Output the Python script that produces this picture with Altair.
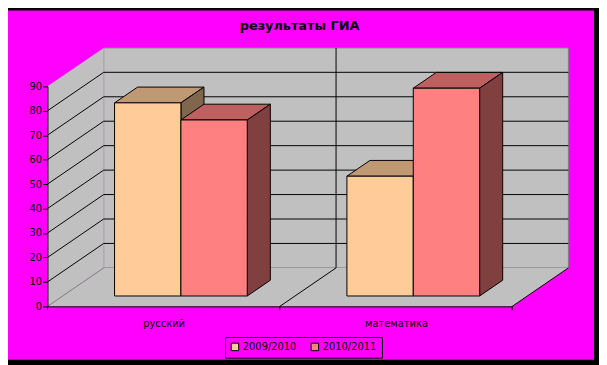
import altair as alt
import pandas as pd

# ---- data ----
categories = ["русский", "математика"]
series = ["2009/2010", "2010/2011"]
values_2009_2010 = [79, 49]
values_2010_2011 = [72, 85]
y_ticks = [0, 10, 20, 30, 40, 50, 60, 70, 80, 90]
title_text = "результаты ГИА"

front_colors = ["#FFCC99", "#FF8080"]
top_colors = ["#BF9973", "#BF6060"]
side_colors = ["#80664D", "#804040"]
wall_fill = "#C0C0C0"
wall_edge = "#808080"

series_values = [values_2009_2010, values_2010_2011]

# ---- geometry (style) ----
W, H = 471, 223
YMAX = y_ticks[-1]
NC = len(categories)
DX = 0.242   # full depth, in category units
DY = 15.74   # full depth, in value units
D0, D1 = 0.27, 0.68   # bar front / back depth fractions
DEP = D1 - D0
BW = 0.2856
C = 0.509

xs = alt.Scale(domain=[0, NC], nice=False, zero=False)
ys = alt.Scale(domain=[0, YMAX], nice=False, zero=False)
label_expr = " : ".join(
    [f"datum.value < {i + 1} ? '{c}'" for i, c in enumerate(categories[:-1])]
) + f" : '{categories[-1]}'"
x_axis = alt.Axis(values=[i + 0.5 for i in range(NC)], labelExpr=label_expr,
                  ticks=False, grid=False, title=None, labelPadding=12,
                  domainColor="black", labelColor="black", labelFont="DejaVu Sans",
                  labelFontSize=10, zindex=2)
y_axis = alt.Axis(values=y_ticks, tickSize=5, labelPadding=1, grid=False, title=None,
                  domainColor="black", tickColor="black", labelColor="black",
                  labelFont="DejaVu Sans", labelFontSize=10, zindex=2)


def X(f):
    return alt.X(f, type="quantitative", scale=xs, axis=x_axis)


def Y(f):
    return alt.Y(f, type="quantitative", scale=ys, axis=y_axis)


# background frame
bg = alt.Chart(pd.DataFrame({"a": [0]})).mark_rect(color="#FF00FF").encode(
    x=alt.value(-40), x2=alt.value(554), y=alt.value(-77), y2=alt.value(277))

# walls
back_df = pd.DataFrame({"x0": [DX], "x1": [NC + DX], "y0": [DY], "y1": [YMAX + DY]})
back = alt.Chart(back_df).mark_rect(fill=wall_fill, stroke=wall_edge, strokeWidth=1).encode(
    x=X("x0"), x2="x1", y=Y("y0"), y2="y1")

left_df = pd.DataFrame({"x": [0, DX], "ya": [0, DY], "yb": [YMAX, YMAX + DY]})
left = alt.Chart(left_df).mark_area(orient="vertical", fill=wall_fill).encode(
    x=X("x"), y=Y("ya"), y2="yb")

floor_df = pd.DataFrame({"y": [0, DY], "xa": [0, DX], "xb": [NC, NC + DX]})
floor = alt.Chart(floor_df).mark_area(orient="horizontal", fill=wall_fill).encode(
    y=Y("y"), x=X("xa"), x2="xb")

# lines
rows = []
for v in y_ticks[1:-1]:
    rows.append(dict(x=DX, x2=NC + DX, y=v + DY, y2=v + DY, col="black"))
    rows.append(dict(x=0, x2=DX, y=v, y2=v + DY, col="black"))
rows.append(dict(x=0, x2=DX, y=0, y2=DY, col=wall_edge))
for k in range(1, NC):
    rows.append(dict(x=k + DX, x2=k + DX, y=DY, y2=YMAX + DY, col="black"))
for k in range(1, NC + 1):
    rows.append(dict(x=k, x2=k + DX, y=0, y2=DY, col="black"))
for k in range(0, NC + 1):
    rows.append(dict(x=k, x2=k, y=0, y2=-1.6, col="black"))
rules = alt.Chart(pd.DataFrame(rows)).mark_rule(strokeWidth=1).encode(
    x=X("x"), x2="x2", y=Y("y"), y2="y2", color=alt.Color("col:N", scale=None))

legend = alt.Legend(orient="none", legendX=180, legendY=254, direction="horizontal",
                    title=None, fillColor="#FF00FF", strokeColor="black", padding=5,
                    symbolType="square", symbolSize=58, symbolStrokeColor="black",
                    symbolStrokeWidth=1, symbolOpacity=1, labelFont="DejaVu Sans",
                    labelFontSize=10, labelColor="black", columnPadding=12, labelOffset=3)

bar_layers = []
for j, s in enumerate(series):
    fr, tp, sd = [], [], []
    for i, c in enumerate(categories):
        v = series_values[j][i]
        x0 = i + C - BW + j * BW + D0 * DX
        x1 = x0 + BW
        fid = f"{s}-{c}"
        fr.append(dict(series=s, x0=x0, x1=x1, yb=D0 * DY, yt=v + D0 * DY))
        tp.append(dict(face=fid, y=v + D0 * DY, xa=x0, xb=x1))
        tp.append(dict(face=fid, y=v + D1 * DY, xa=x0 + DEP * DX, xb=x1 + DEP * DX))
        sd.append(dict(face=fid, x=x1, ya=D0 * DY, yb=v + D0 * DY))
        sd.append(dict(face=fid, x=x1 + DEP * DX, ya=D1 * DY, yb=v + D1 * DY))
    top = alt.Chart(pd.DataFrame(tp)).mark_area(
        orient="horizontal", fill=top_colors[j], stroke="black", strokeWidth=1).encode(
        y=Y("y"), x=X("xa"), x2="xb", detail="face:N")
    side = alt.Chart(pd.DataFrame(sd)).mark_area(
        orient="vertical", fill=side_colors[j], stroke="black", strokeWidth=1).encode(
        x=X("x"), y=Y("ya"), y2="yb", detail="face:N")
    front = alt.Chart(pd.DataFrame(fr)).mark_rect(stroke="black", strokeWidth=1).encode(
        x=X("x0"), x2="x1", y=Y("yb"), y2="yt",
        fill=alt.Fill("series:N", scale=alt.Scale(domain=series, range=front_colors),
                      legend=legend))
    bar_layers += [top, side, front]

chart = alt.layer(bg, back, left, floor, rules, *bar_layers).properties(
    width=W, height=H,
    padding={"left": 40, "top": 77, "right": 88, "bottom": 57},
    autosize=alt.AutoSizeParams(type="none"),
    background="black",
    title=alt.TitleParams(title_text, font="DejaVu Sans", fontSize=13, fontWeight="bold",
                          color="black", anchor="middle", dx=20, offset=-36,
                          baseline="bottom"),
).configure_view(stroke=None)

chart.save("out.html", embed_options={"renderer": "svg", "actions": False})
